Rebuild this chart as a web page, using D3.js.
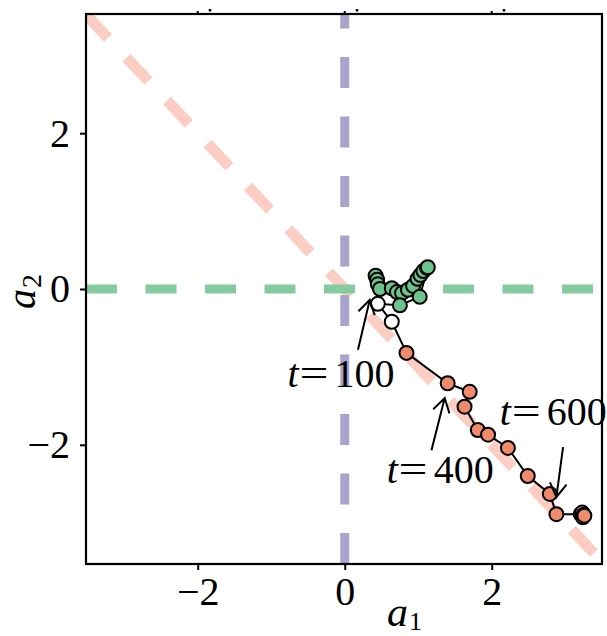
<!DOCTYPE html>
<html>
<head>
    <script src="https://cdnjs.cloudflare.com/ajax/libs/d3/7.8.5/d3.min.js"></script>
    <style>
        html, body {
            padding: 0;
            margin: 0;
            background: white;
        }
    </style>
</head>
<body>

<script>
    var width = 607, height = 636;
    var margin = {top: 14, right: 5, bottom: 72, left: 86};

    // trajectory points, in time order (green, then white, then red)
    var greenX = [0.42, 0.44, 0.45, 0.48, 0.64, 0.71, 0.78, 0.86, 0.93, 0.99, 1.03, 1.07, 1.12, 1.13, 1.02, 0.75];
    var greenY = [0.17, 0.12, 0.06, 0.00, 0.01, -0.04, -0.05, -0.01, 0.04, 0.13, 0.18, 0.23, 0.27, 0.28, -0.10, -0.21];
    var whiteX = [0.45, 0.64];
    var whiteY = [-0.19, -0.42];
    var redX = [0.84, 1.40, 1.70, 1.63, 1.81, 1.95, 2.22, 2.49, 2.79, 2.88, 3.21, 3.23, 3.25, 3.24, 3.26];
    var redY = [-0.82, -1.21, -1.32, -1.51, -1.81, -1.87, -2.04, -2.40, -2.63, -2.89, -2.89, -2.87, -2.90, -2.93, -2.91];

    var tickValues = [-2, 0, 2];

    // annotations: label, arrow tip, arrow tail, text start (data coords)
    var annLabels = ["100", "400", "600"];
    var annTipX = [0.34, 1.36, 2.88];
    var annTipY = [-0.14, -1.40, -2.67];
    var annTailX = [0.18, 1.18, 2.97];
    var annTailY = [-0.78, -2.07, -2.03];
    var annTextX = [-0.78, 0.57, 2.11];
    var annTextY = [-1.26, -2.49, -1.75];

    // pick a Times-like serif that is really installed
    function hasFont(fam) {
        var c = document.createElement("canvas").getContext("2d");
        var s = "abcdefghijklmnopqrstuvwxyz0123456789=";
        c.font = "40px monospace";
        var w0 = c.measureText(s).width;
        c.font = "40px '" + fam + "', monospace";
        return c.measureText(s).width !== w0;
    }
    var serifs = ["Liberation Serif", "Times New Roman", "Tinos", "Nimbus Roman", "DejaVu Serif"];
    var picked = serifs.filter(hasFont)[0];
    var font = (picked ? "'" + picked + "', " : "") + "serif";

    var svg = d3.select('body').append('svg')
        .attr('width', width)
        .attr('height', height);

    var x = d3.scaleLinear().domain([-3.52, 3.5]).range([margin.left, width - margin.right]);
    var y = d3.scaleLinear().domain([-3.53, 3.53]).range([height - margin.bottom, margin.top]);

    svg.append("clipPath").attr("id", "plotclip")
        .append("rect")
        .attr("x", x.range()[0]).attr("y", y.range()[1])
        .attr("width", x.range()[1] - x.range()[0])
        .attr("height", y.range()[0] - y.range()[1]);

    var plot = svg.append("g").attr("clip-path", "url(#plotclip)");

    // reference lines
    plot.append("line")
        .attr("x1", x(-3.52)).attr("y1", y(3.52))
        .attr("x2", x(3.6)).attr("y2", y(-3.6))
        .attr("stroke", "#fbcdc3").attr("stroke-width", 11)
        .attr("stroke-dasharray", "32,27");

    plot.append("line")
        .attr("x1", x(0)).attr("y1", y(-3.53))
        .attr("x2", x(0)).attr("y2", y(3.53))
        .attr("stroke", "#aaa4cc").attr("stroke-width", 9)
        .attr("stroke-dasharray", "31,28.5");

    plot.append("line")
        .attr("x1", x(-3.52)).attr("y1", y(0))
        .attr("x2", x(3.5)).attr("y2", y(0))
        .attr("stroke", "#86cba0").attr("stroke-width", 9)
        .attr("stroke-dasharray", "31,28.5");

    // trajectory
    var pts = [];
    greenX.forEach(function (d, i) { pts.push({x: d, y: greenY[i], c: "#6cc48c"}); });
    whiteX.forEach(function (d, i) { pts.push({x: d, y: whiteY[i], c: "#ffffff"}); });
    redX.forEach(function (d, i) { pts.push({x: d, y: redY[i], c: "#f08a6c"}); });

    plot.append("path")
        .datum(pts)
        .attr("fill", "none")
        .attr("stroke", "black")
        .attr("stroke-width", 2)
        .attr("d", d3.line().x(function (d) { return x(d.x); }).y(function (d) { return y(d.y); }));

    plot.selectAll("circle.pt")
        .data(pts)
        .enter().append("circle")
        .attr("class", "pt")
        .attr("cx", function (d) { return x(d.x); })
        .attr("cy", function (d) { return y(d.y); })
        .attr("r", 7)
        .attr("fill", function (d) { return d.c; })
        .attr("stroke", "black")
        .attr("stroke-width", 2);

    // annotations with arrows
    annLabels.forEach(function (lab, i) {
        var tx = x(annTipX[i]), ty = y(annTipY[i]);
        var sx = x(annTailX[i]), sy = y(annTailY[i]);
        var ang = Math.atan2(sy - ty, sx - tx);
        var wing = 16, spread = 0.55;
        svg.append("path")
            .attr("d", "M" + sx + "," + sy + "L" + tx + "," + ty +
                "M" + (tx + wing * Math.cos(ang - spread)) + "," + (ty + wing * Math.sin(ang - spread)) +
                "L" + tx + "," + ty +
                "L" + (tx + wing * Math.cos(ang + spread)) + "," + (ty + wing * Math.sin(ang + spread)))
            .attr("fill", "none")
            .attr("stroke", "black")
            .attr("stroke-width", 2);

        var x0 = x(annTextX[i]), y0 = y(annTextY[i]);
        var g = svg.append("g")
            .style("font-family", font)
            .style("font-size", "40px")
            .attr("fill", "black");
        g.append("text").attr("x", x0).attr("y", y0).style("font-style", "italic").text("t");
        g.append("text").attr("x", x0 + 12).attr("y", y0)
            .attr("textLength", 29).attr("lengthAdjust", "spacingAndGlyphs").text("=");
        g.append("text").attr("x", x0 + 47).attr("y", y0).text(lab);
    });

    // frame
    svg.append("rect")
        .attr("x", x.range()[0]).attr("y", y.range()[1])
        .attr("width", x.range()[1] - x.range()[0])
        .attr("height", y.range()[0] - y.range()[1])
        .attr("fill", "none")
        .attr("stroke", "black")
        .attr("stroke-width", 2.2);

    var fmt = function (d) { return d < 0 ? "\u2212" + Math.abs(d) : String(d); };

    var xAxis = svg.append("g")
        .attr("transform", "translate(0," + y.range()[0] + ")")
        .call(d3.axisBottom(x).tickValues(tickValues).tickSize(6).tickPadding(7).tickFormat(fmt));
    var yAxis = svg.append("g")
        .attr("transform", "translate(" + x.range()[0] + ",0)")
        .call(d3.axisLeft(y).tickValues(tickValues).tickSize(6).tickPadding(10).tickFormat(fmt));

    [xAxis, yAxis].forEach(function (a) {
        a.select(".domain").remove();
        a.selectAll(".tick line").attr("stroke", "black").attr("stroke-width", 2);
        a.selectAll(".tick text")
            .attr("fill", "black")
            .style("font-family", font)
            .style("font-size", "40px");
    });

    // tiny clipped remnants above the top edge
    svg.selectAll("rect.rem")
        .data(tickValues)
        .enter().append("rect")
        .attr("class", "rem")
        .attr("x", function (d) { return x(d) + 11; })
        .attr("y", 9)
        .attr("width", 2.5).attr("height", 2.5)
        .attr("fill", "black");
    svg.selectAll("line.toptick")
        .data(tickValues)
        .enter().append("line")
        .attr("class", "toptick")
        .attr("x1", function (d) { return x(d); })
        .attr("x2", function (d) { return x(d); })
        .attr("y1", y.range()[1]).attr("y2", y.range()[1] - 3)
        .attr("stroke", "black").attr("stroke-width", 2);

    // axis labels
    var xl = svg.append("text")
        .attr("x", 387).attr("y", 626)
        .style("font-family", font)
        .style("font-size", "42px")
        .attr("fill", "black");
    xl.append("tspan").style("font-style", "italic").text("a");
    xl.append("tspan").attr("dx", 1).attr("dy", 4).style("font-size", "26px").text("1");

    var yl = svg.append("text")
        .attr("transform", "translate(35,309) rotate(-90)")
        .style("font-family", font)
        .style("font-size", "40px")
        .attr("fill", "black");
    yl.append("tspan").style("font-style", "italic").text("a");
    yl.append("tspan").attr("dx", 1).attr("dy", 6).style("font-size", "28px").text("2");
</script>
</body>
</html>
